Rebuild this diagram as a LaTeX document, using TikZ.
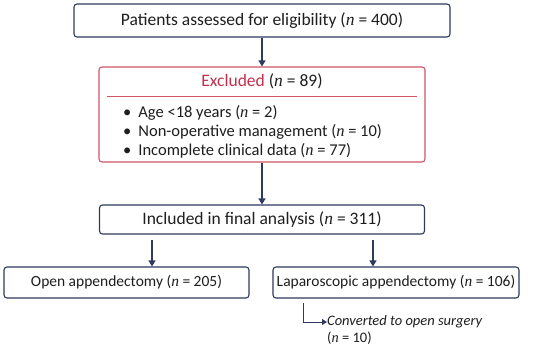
\documentclass[tikz,border=0pt]{standalone}
\usepackage{fontspec}
\setmainfont{Carlito}
\newfontfamily\nfont{Liberation Serif}
\usetikzlibrary{arrows.meta}
\definecolor{navy}{HTML}{2E3A5E}
\definecolor{exred}{HTML}{C2304C}
\definecolor{exborder}{HTML}{D35468}
\definecolor{txt}{HTML}{1E1E1E}
\newcommand{\nn}{{\nfont\itshape n}}
\tikzset{
  x=1pt,y=1pt,
  boxnode/.style={draw=navy,line width=1.1pt,rounded corners=3pt,inner sep=0pt,text=txt,font=\fontsize{17.5}{20}\selectfont},
  smallbox/.style={boxnode,font=\fontsize{15.5}{18}\selectfont},
  bullettext/.style={text=txt,font=\fontsize{16.5}{19}\selectfont,anchor=west,inner sep=0pt},
  flowarrow/.style={draw=navy,line width=1.1pt,-{Triangle[length=6pt,width=7pt]}}
}
\begin{document}
\begin{tikzpicture}
\useasboundingbox (0,0) rectangle (550,-348);
\fill[white] (0,0) rectangle (550,-348);
% top box
\node[boxnode,minimum width=376pt,minimum height=33pt] (top) at (262,-20.5) {Patients assessed for eligibility (\nn{} = 400)};
% excluded box
\node[draw=exborder,line width=1.1pt,rounded corners=3pt,minimum width=326pt,minimum height=95pt,inner sep=0pt] (exc) at (262,-114.5) {};
\node[text=txt,font=\fontsize{17.5}{20}\selectfont] (exct) at (262,-81) {\textcolor{exred}{Excluded} (\nn{} = 89)};
\coordinate (l1) at (107,-96);
\coordinate (l2) at (417,-96);
\draw[exborder,line width=0.8pt] (l1) -- (l2);
\node[bullettext] (b1) at (123,-113) {•\hspace{7pt}Age <18 years (\nn{} = 2)};
\node[bullettext] (b2) at (123,-132) {•\hspace{7pt}Non-operative management (\nn{} = 10)};
\node[bullettext] (b3) at (123,-151) {•\hspace{7pt}Incomplete clinical data (\nn{} = 77)};
% included
\node[boxnode,minimum width=325pt,minimum height=29pt] (inc) at (262,-219.5) {Included in final analysis (\nn{} = 311)};
% open / lap
\node[smallbox,minimum width=245pt,minimum height=31pt] (open) at (126.5,-282.5) {Open appendectomy (\nn{} = 205)};
\node[smallbox,minimum width=246pt,minimum height=31pt] (lap) at (396,-282.5) {Laparoscopic appendectomy (\nn{} = 106)};
% arrows
\draw[flowarrow] (top.south) -- (exc.north);
\draw[flowarrow] (exc.south) -- (inc.north);
\coordinate (s1) at (152,-240);
\coordinate (s2) at (373,-240);
\draw[flowarrow] (s1) -- (s1 |- open.north);
\draw[flowarrow] (s2) -- (s2 |- lap.north);
% converted
\node[anchor=west,text=txt,font=\fontsize{14.5}{17}\selectfont\itshape,inner sep=0pt] (conv) at (327,-322) {Converted to open surgery};
\node[anchor=west,text=txt,font=\fontsize{14.5}{17}\selectfont,inner sep=0pt] (conv2) at (327,-338) {(\nn{} = 10)};
\coordinate (c1) at (303,-303);
\draw[draw=navy,line width=1pt,-{Triangle[length=5pt,width=6pt]}] (c1) |- (conv.west);
\end{tikzpicture}
\end{document}
